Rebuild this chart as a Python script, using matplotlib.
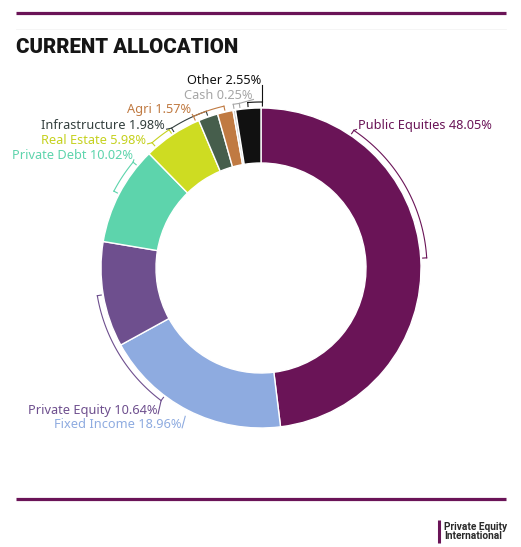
import numpy as np
import matplotlib
matplotlib.use("Agg")
import matplotlib.pyplot as plt

# data
categories = ["Public Equities", "Fixed Income", "Private Equity", "Private Debt",
              "Real Estate", "Infrastructure", "Agri", "Cash", "Other"]
shares = [48.05, 18.96, 10.64, 10.02, 5.98, 1.98, 1.57, 0.25, 2.55]
slice_colors = ["#6a1457", "#8eabe0", "#6e4f8e", "#5dd4ac", "#cedc22",
                "#465e4c", "#c07a42", "#c8c8c8", "#111111"]
text_colors = ["#6a1457", "#8eabe0", "#6e4f8e", "#5dd4ac", "#c5d11f",
               "#34403f", "#c07a42", "#a6a6a6", "#111111"]

# label layout in pixels (x anchor, y centre, alignment) and where the bracket starts (deg clockwise from top)
label_pos = [(358, 124.3, "left"), (181, 423.3, "right"), (157, 409.3, "right"),
             (133, 154.3, "right"), (146, 139, "right"), (165, 124.3, "right"),
             (191, 109, "right"), (253, 94.3, "right"), (261, 79.3, "right")]
bracket_start = [34, None, 217, 309.6, 319, 327.4, 336, 352.5, 360.5]

W, H = 521, 547
cx, cy = 261, 268
R, ring = 160, 55
RB = 166

fig = plt.figure(figsize=(W / 100, H / 100), dpi=100)
ax = fig.add_axes([0, 0, 1, 1])

# y axis points down so pixel positions can be used directly; pie then runs clockwise visually
ax.pie(shares, colors=slice_colors, startangle=-90, counterclock=True,
       radius=R, center=(cx, cy),
       wedgeprops=dict(width=ring, edgecolor="white", linewidth=1))
ax.set_xlim(0, W)
ax.set_ylim(H, 0)
ax.set_aspect("equal")
ax.axis("off")


def pt(ang, r):
    a = np.radians(ang)
    return cx + r * np.sin(a), cy - r * np.cos(a)


ends = np.cumsum(shares) * 3.6
mids = ends - np.array(shares) * 1.8

for i, name in enumerate(categories):
    lx, ly, ha = label_pos[i]
    col = text_colors[i]
    ax.text(lx, ly + 4.5, f"{name} {shares[i]:.2f}%", color=col, ha=ha, va="baseline",
            fontsize=9.2, family="Noto Sans")
    mid = mids[i]
    start = bracket_start[i] if bracket_start[i] is not None else mid
    # leader from label to the bracket
    sx, sy = pt(start, RB)
    if i == 8:
        ax.plot([lx + 1, lx + 1, sx], [ly + 6, sy, sy], color=col, lw=0.8)
    else:
        ax.plot([lx + (-1 if ha == "left" else 1), sx], [ly + 5, sy],
                color=col, lw=0.8, solid_capstyle="butt")
    if bracket_start[i] is None:
        continue
    t = np.linspace(start, mid, 60)
    bx, by = pt(t, RB)
    ax.plot(bx, by, color=col, lw=0.8)
    for a in (start, mid):
        x0, y0 = pt(a, RB)
        x1, y1 = pt(a, RB - 4)
        ax.plot([x0, x1], [y0, y1], color=col, lw=0.8)

# header / footer decoration
purple = "#6a1457"
ax.plot([16, 506], [12.5, 12.5], color=purple, lw=2.3, solid_capstyle="butt")
ax.plot([16, 506], [29, 29], color="#f4f4f4", lw=0.6)
ax.plot([16, 506], [499, 499], color=purple, lw=2.3, solid_capstyle="butt")
ax.text(16, 53.3, "CURRENT ALLOCATION", fontsize=14.7, family="Roboto", weight="black",
        color="#161616", ha="left", va="baseline")

ax.plot([439.2, 439.2], [519.5, 542.5], color=purple, lw=2.2, solid_capstyle="butt")
ax.text(444, 530, "Private Equity", fontsize=7.3, family="Roboto", weight="bold",
        color="#2a2a2a", ha="left", va="baseline")
ax.text(444, 538.8, "International", fontsize=7.3, family="Roboto", weight="bold",
        color="#2a2a2a", ha="left", va="baseline")

fig.savefig("out.png", dpi=100)
